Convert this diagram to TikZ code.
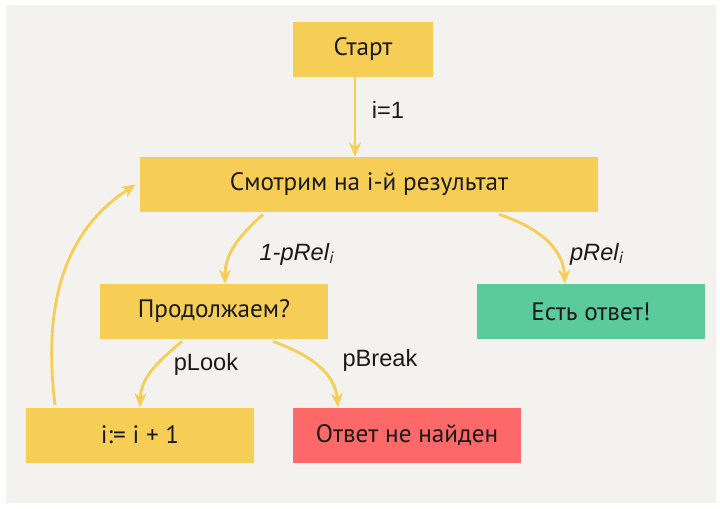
\documentclass[tikz,border=0pt]{standalone}
\usepackage{fontspec}
\setmainfont{PT Sans}
\newfontfamily\lblfont{Liberation Sans}
\usetikzlibrary{arrows.meta}
\definecolor{bgcol}{HTML}{F3F2EE}
\definecolor{boxyel}{HTML}{F6CD55}
\definecolor{boxgrn}{HTML}{5CCB9B}
\definecolor{boxred}{HTML}{FD6868}
\definecolor{txtcol}{HTML}{1A1A1A}
\begin{document}
\begin{tikzpicture}[x=0.5pt,y=-0.5pt,
  stepbox/.style={fill=boxyel,text=txtcol,minimum height=27.5pt,inner sep=0pt,font=\fontsize{12.6}{14}\selectfont},
  flow/.style={draw=boxyel,line width=1.4pt,-{Stealth[length=7pt,width=6pt]}},
  lbl/.style={text=txtcol,inner sep=0pt,font=\lblfont\fontsize{11.8}{13}\selectfont}]%
\useasboundingbox (0,0) rectangle (720,509);
\fill[white] (0,0) rectangle (720,509);
\fill[bgcol] (6,5) rectangle (716,503);
\node[stepbox,minimum width=70pt] (start) at (363,49.5) {Старт};
\node[stepbox,minimum width=229pt] (look) at (369,184.5) {Смотрим на i-й результат};
\node[stepbox,minimum width=114pt] (cont) at (214,311.5) {Продолжаем?};
\node[stepbox,minimum width=114pt,fill=boxgrn] (yes) at (591,311.5) {Есть ответ!};
\node[stepbox,minimum width=114pt] (incr) at (140,435) {i:= i + 1};
\node[stepbox,minimum width=114pt,fill=boxred] (no) at (407,435) {Ответ не найден};
\node[lbl] (l1) at (388,110) {i=1};
\node[lbl] (l2) at (297,254) {\itshape 1-pRel$_{\mathit{i}}$};
\node[lbl] (l3) at (597,254) {\itshape pRel$_{\mathit{i}}$};
\node[lbl] (l4) at (206,364) {pLook};
\node[lbl] (l5) at (380,360) {pBreak};
\draw[flow] ([xshift=-4pt]start.south) -- ([xshift=-4pt]start.south |- look.north);
\draw[flow] ([xshift=-53pt,yshift=-1pt]look.south) to[out=-138,in=90] ([xshift=5.5pt]cont.north);
\draw[flow] ([xshift=65pt,yshift=-1pt]look.south) to[out=-18,in=93] ([xshift=-13pt]yes.north);
\draw[flow] ([xshift=-16pt,yshift=-1pt]cont.south) to[out=-140,in=88] ([xshift=0pt]incr.north);
\draw[flow] ([xshift=29.5pt,yshift=-1pt]cont.south) to[out=-20,in=95] ([xshift=-34.5pt]no.north);
\draw[flow] ([xshift=-42.5pt,yshift=1pt]incr.north) to[out=97,in=213] ([xshift=-2pt]look.west);
\end{tikzpicture}
\end{document}
